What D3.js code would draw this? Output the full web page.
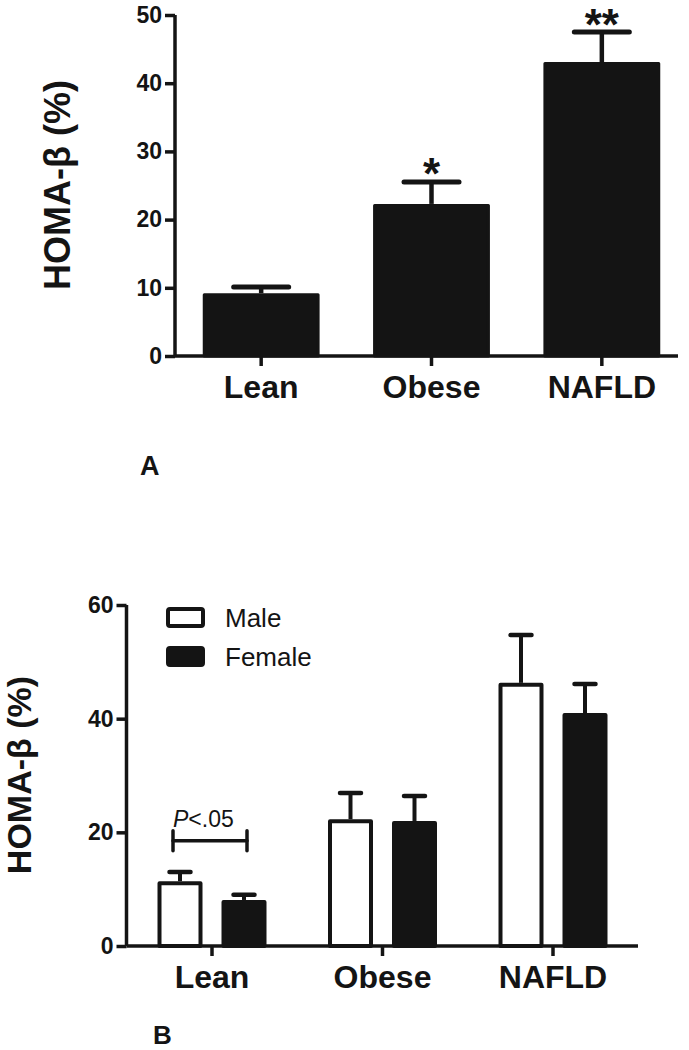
<!DOCTYPE html>
<html>
<head>
<meta charset="utf-8">
<script src="https://cdn.jsdelivr.net/npm/d3@7"></script>
<style>
  html, body { margin: 0; padding: 0; background: #fff; }
  svg { display: block; font-family: "Liberation Sans", Arial, Helvetica, sans-serif; }
</style>
</head>
<body>
<div id="chart"></div>
<script>
// categories shared by both panels
const categories = ['Lean', 'Obese', 'NAFLD'];

// panel A: all subjects
const allMean = [9.2, 22.3, 43.1];
const allSem = [0.9, 3.2, 4.4];
const sigMarks = ['', '*', '**'];
const ticksA = [0, 10, 20, 30, 40, 50];

// panel B: by sex
const groups = ['Male', 'Female'];
const maleMean = [11.4, 22.3, 46.3];
const maleSem = [1.6, 4.6, 8.4];
const femaleMean = [8.1, 22.0, 41.0];
const femaleSem = [0.9, 4.4, 5.1];
const ticksB = [0, 20, 40, 60];
const pLabel = 'P<.05';
const pLevel = 18.5; // bracket height in data units (Lean)

const width = 689, height = 1050;
const ink = '#141414';

const svg = d3.select('#chart').append('svg')
  .attr('width', width)
  .attr('height', height);

function styleAxis(g, fontSize) {
  g.selectAll('.tick line').attr('stroke', ink).attr('stroke-width', 3.5);
  g.selectAll('.tick text')
    .attr('fill', ink)
    .style('font-size', fontSize + 'px')
    .style('font-weight', 'bold');
  g.select('.domain').remove();
}

// ---------- Panel A ----------
const yA = d3.scaleLinear().domain([0, 50]).range([356, 15]);
const xA = d3.scaleBand().domain(categories).range([176, 687]);
const axisLeftA = 175, axisRightA = 678;
const barWA = xA.bandwidth() * 0.686;

const gA = svg.append('g');

const dataA = categories.map((c, i) => ({ cat: c, mean: allMean[i], sem: allSem[i], sig: sigMarks[i] }));

gA.selectAll('rect.bar')
  .data(dataA)
  .enter().append('rect')
  .attr('class', 'bar')
  .attr('x', d => xA(d.cat) + xA.bandwidth() / 2 - barWA / 2 + 1.5)
  .attr('y', d => yA(d.mean) + 1.5)
  .attr('width', barWA - 3)
  .attr('height', d => yA(0) - yA(d.mean) - 1.5)
  .attr('fill', ink)
  .attr('stroke', ink)
  .attr('stroke-width', 3)
  .attr('stroke-linejoin', 'round');

// error bars (upper only)
gA.selectAll('line.stem')
  .data(dataA)
  .enter().append('line')
  .attr('x1', d => xA(d.cat) + xA.bandwidth() / 2)
  .attr('x2', d => xA(d.cat) + xA.bandwidth() / 2)
  .attr('y1', d => yA(d.mean))
  .attr('y2', d => yA(d.mean + d.sem))
  .attr('stroke', ink).attr('stroke-width', 4.5);

gA.selectAll('line.cap')
  .data(dataA)
  .enter().append('line')
  .attr('x1', d => xA(d.cat) + xA.bandwidth() / 2 - 27.5)
  .attr('x2', d => xA(d.cat) + xA.bandwidth() / 2 + 27.5)
  .attr('y1', d => yA(d.mean + d.sem))
  .attr('y2', d => yA(d.mean + d.sem))
  .attr('stroke', ink).attr('stroke-width', 5)
  .attr('stroke-linecap', 'round');

gA.selectAll('text.sig')
  .data(dataA)
  .enter().append('text')
  .attr('x', d => xA(d.cat) + xA.bandwidth() / 2)
  .attr('y', d => Math.max(yA(d.mean + d.sem) + 7, 40))
  .attr('text-anchor', 'middle')
  .attr('fill', ink)
  .style('font-size', '44px')
  .style('font-weight', 'bold')
  .text(d => d.sig);

// axes
gA.append('line')
  .attr('x1', axisLeftA).attr('x2', axisLeftA)
  .attr('y1', yA(50)).attr('y2', yA(0))
  .attr('stroke', ink).attr('stroke-width', 3.5);
gA.append('line')
  .attr('x1', axisLeftA).attr('x2', axisRightA)
  .attr('y1', yA(0)).attr('y2', yA(0))
  .attr('stroke', ink).attr('stroke-width', 3.5);

const yAxisA = gA.append('g')
  .attr('transform', `translate(${axisLeftA},0)`)
  .call(d3.axisLeft(yA).tickValues(ticksA).tickSize(10).tickPadding(3));
styleAxis(yAxisA, 23);

const xAxisA = gA.append('g')
  .attr('transform', `translate(0,${yA(0)})`)
  .call(d3.axisBottom(xA).tickSize(10).tickPadding(9));
styleAxis(xAxisA, 32);

gA.append('text')
  .attr('transform', 'translate(70,185) rotate(-90)')
  .attr('text-anchor', 'middle')
  .attr('fill', ink)
  .style('font-size', '36px')
  .style('font-weight', 'bold')
  .text('HOMA-β (%)');

gA.append('text')
  .attr('x', 140).attr('y', 475)
  .attr('fill', ink)
  .style('font-size', '27px')
  .style('font-weight', 'bold')
  .text('A');

// ---------- Panel B ----------
const yB = d3.scaleLinear().domain([0, 60]).range([946, 605]);
const xB = d3.scaleBand().domain(categories).range([126.75, 638.25]);
const sub = d3.scalePoint().domain(groups).range([-32, 32]);
const axisLeftB = 126.5, axisRightB = 638;
const barWB = 41;
const capHalfB = 10.5;

const gB = svg.append('g');

const dataB = [];
categories.forEach((c, i) => {
  dataB.push({ cat: c, grp: 'Male', mean: maleMean[i], sem: maleSem[i] });
  dataB.push({ cat: c, grp: 'Female', mean: femaleMean[i], sem: femaleSem[i] });
});
const cx = d => xB(d.cat) + xB.bandwidth() / 2 + sub(d.grp);

gB.selectAll('line.stem')
  .data(dataB)
  .enter().append('line')
  .attr('x1', cx).attr('x2', cx)
  .attr('y1', d => yB(d.mean))
  .attr('y2', d => yB(d.mean + d.sem))
  .attr('stroke', ink).attr('stroke-width', 4);

gB.selectAll('line.cap')
  .data(dataB)
  .enter().append('line')
  .attr('x1', d => cx(d) - capHalfB)
  .attr('x2', d => cx(d) + capHalfB)
  .attr('y1', d => yB(d.mean + d.sem))
  .attr('y2', d => yB(d.mean + d.sem))
  .attr('stroke', ink).attr('stroke-width', 4.5)
  .attr('stroke-linecap', 'round');

gB.selectAll('rect.bar')
  .data(dataB)
  .enter().append('rect')
  .attr('x', d => cx(d) - barWB / 2)
  .attr('y', d => yB(d.mean) + 2)
  .attr('width', barWB)
  .attr('height', d => yB(0) - yB(d.mean) - 2)
  .attr('fill', d => d.grp === 'Male' ? '#fff' : ink)
  .attr('stroke', ink)
  .attr('stroke-width', 4)
  .attr('stroke-linejoin', 'round');

// axes
gB.append('line')
  .attr('x1', axisLeftB).attr('x2', axisLeftB)
  .attr('y1', yB(60)).attr('y2', yB(0))
  .attr('stroke', ink).attr('stroke-width', 3.5);
gB.append('line')
  .attr('x1', axisLeftB).attr('x2', axisRightB)
  .attr('y1', yB(0)).attr('y2', yB(0))
  .attr('stroke', ink).attr('stroke-width', 3.5);

const yAxisB = gB.append('g')
  .attr('transform', `translate(${axisLeftB},0)`)
  .call(d3.axisLeft(yB).tickValues(ticksB).tickSize(10).tickPadding(3));
styleAxis(yAxisB, 23);

const xAxisB = gB.append('g')
  .attr('transform', `translate(0,${yB(0)})`)
  .call(d3.axisBottom(xB).tickSize(10).tickPadding(9));
styleAxis(xAxisB, 32);

gB.append('text')
  .attr('transform', 'translate(31,775) rotate(-90)')
  .attr('text-anchor', 'middle')
  .attr('fill', ink)
  .style('font-size', '34px')
  .style('font-weight', 'bold')
  .text('HOMA-β (%)');

gB.append('text')
  .attr('x', 153).attr('y', 1044)
  .attr('fill', ink)
  .style('font-size', '26px')
  .style('font-weight', 'bold')
  .text('B');

// legend
const legend = gB.append('g').attr('transform', 'translate(166,607)');
groups.forEach((grp, i) => {
  const row = legend.append('g').attr('transform', `translate(0,${i * 39})`);
  row.append('rect')
    .attr('x', 2).attr('y', 2)
    .attr('width', 35).attr('height', 17)
    .attr('rx', 2)
    .attr('fill', grp === 'Male' ? '#fff' : ink)
    .attr('stroke', ink).attr('stroke-width', 4)
    .attr('stroke-linejoin', 'round');
  row.append('text')
    .attr('x', 59).attr('y', 19.5)
    .attr('fill', ink)
    .style('font-size', '26px')
    .text(grp);
});

// significance bracket for Lean male vs female
const leanM = cx({ cat: 'Lean', grp: 'Male' });
const leanF = cx({ cat: 'Lean', grp: 'Female' });
const bx1 = leanM - 7, bx2 = leanF + 3, by = yB(pLevel);
const bracket = gB.append('g')
  .attr('stroke', ink).attr('stroke-width', 3.5).attr('stroke-linecap', 'round');
bracket.append('line').attr('x1', bx1).attr('x2', bx2).attr('y1', by).attr('y2', by);
bracket.append('line').attr('x1', bx1).attr('x2', bx1).attr('y1', by - 10).attr('y2', by + 10);
bracket.append('line').attr('x1', bx2).attr('x2', bx2).attr('y1', by - 10).attr('y2', by + 10);

const pText = gB.append('text')
  .attr('x', bx1).attr('y', by - 14)
  .attr('fill', ink)
  .style('font-size', '23px');
pText.append('tspan').style('font-style', 'italic').text(pLabel.slice(0, 1));
pText.append('tspan').text(pLabel.slice(1));
</script>
</body>
</html>
